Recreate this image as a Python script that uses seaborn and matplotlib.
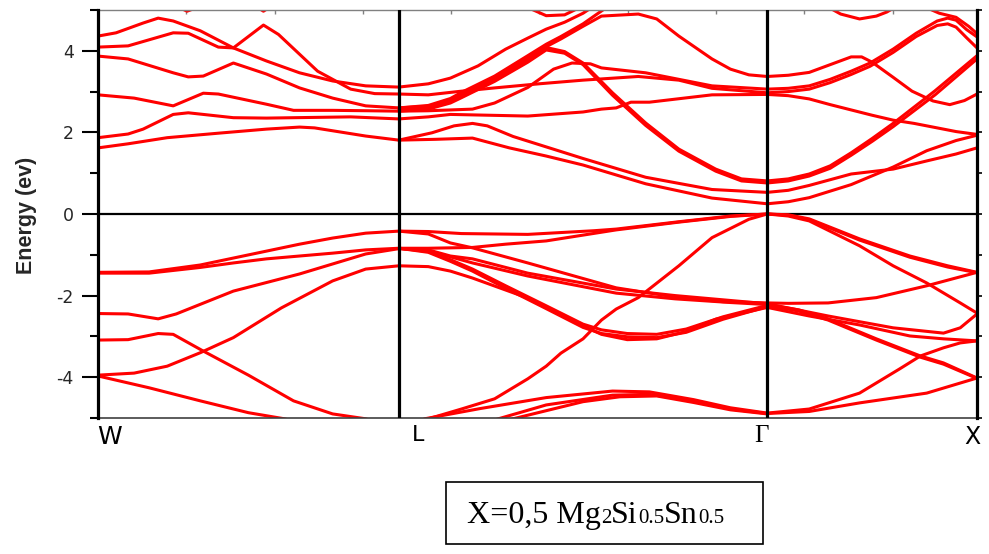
import numpy as np
import pandas as pd
import matplotlib
matplotlib.use("Agg")
import matplotlib.pyplot as plt
import matplotlib.transforms as mtransforms
from matplotlib.patches import Rectangle
import seaborn as sns

# High-symmetry points and their distance along the k-path (2*pi/a)
sym_labels = ["W", "L", "Γ", "X"]
sym_k = [0.0, 0.707, 1.573, 2.066]

# Bands: (segment coordinate, energy in eV); segment coordinate 0 = W, 1 = L, 2 = Γ, 3 = X
vb1 = [(0.00, -1.43), (0.17, -1.42), (0.34, -1.25), (0.45, -1.08), (0.56, -0.91), (0.67, -0.74),
       (0.78, -0.59), (0.89, -0.47), (1.00, -0.42), (1.08, -0.43), (1.17, -0.48), (1.35, -0.50),
       (1.53, -0.41), (1.59, -0.37), (1.76, -0.19), (1.90, -0.05), (2.00, 0.00), (2.10, -0.02),
       (2.20, -0.12), (2.44, -0.61), (2.68, -1.03), (2.86, -1.27), (3.00, -1.43)]
vb2 = [(0.00, -1.45), (0.17, -1.45), (0.34, -1.31), (0.45, -1.20), (0.56, -1.10), (0.67, -1.03),
       (0.78, -0.96), (0.89, -0.88), (1.00, -0.84), (1.08, -0.84), (1.20, -0.82), (1.29, -0.74),
       (1.40, -0.66), (1.59, -0.39), (1.76, -0.20), (1.90, -0.06), (2.00, 0.00), (2.10, -0.03),
       (2.20, -0.14), (2.44, -0.64), (2.68, -1.06), (2.86, -1.30), (3.00, -1.44)]
vb3 = [(0.00, -2.44), (0.10, -2.45), (0.20, -2.57), (0.26, -2.45), (0.45, -1.89), (0.67, -1.47),
       (0.89, -0.98), (1.00, -0.85), (1.08, -0.88), (1.14, -1.03), (1.20, -1.10), (1.35, -1.45),
       (1.59, -1.84), (1.75, -2.00), (1.90, -2.12), (2.00, -2.20), (2.29, -2.50), (2.60, -2.79),
       (2.84, -2.92), (2.92, -2.79), (3.00, -2.45)]
vb4 = [(0.00, -3.09), (0.10, -3.08), (0.20, -2.93), (0.25, -2.95), (0.35, -3.36), (0.50, -3.95),
       (0.65, -4.58), (0.78, -4.90), (0.89, -5.02), (1.00, -5.30), (1.08, -5.02), (1.17, -4.78),
       (1.26, -4.53), (1.35, -4.04), (1.40, -3.73), (1.44, -3.41), (1.50, -3.06), (1.55, -2.60),
       (1.59, -2.33), (1.65, -2.05), (1.76, -1.27), (1.85, -0.58), (1.95, -0.13), (2.00, 0.00),
       (2.10, -0.05), (2.20, -0.17), (2.44, -0.78), (2.60, -1.27), (2.76, -1.69), (2.92, -2.18),
       (3.00, -2.43)]
vb5 = [(0.00, -3.95), (0.12, -3.90), (0.23, -3.73), (0.34, -3.40), (0.45, -3.03), (0.61, -2.30),
       (0.78, -1.64), (0.89, -1.35), (1.00, -1.27), (1.08, -1.29), (1.14, -1.40), (1.20, -1.57),
       (1.35, -2.06), (1.50, -2.74), (1.55, -2.95), (1.62, -3.08), (1.70, -3.06), (1.78, -2.88),
       (1.86, -2.58), (2.00, -2.29), (2.20, -2.50), (2.44, -2.72), (2.68, -2.99), (2.84, -3.06),
       (3.00, -3.11)]
vb6 = [(0.00, -3.97), (0.17, -4.26), (0.34, -4.58), (0.50, -4.87), (0.62, -5.02), (0.80, -5.40)]
vb7 = [(1.00, -0.42), (1.08, -0.49), (1.14, -0.71), (1.20, -0.83), (1.35, -1.20), (1.59, -1.81),
       (1.76, -2.05), (1.88, -2.15), (2.00, -2.18), (2.10, -2.19), (2.29, -2.18), (2.52, -2.05),
       (2.76, -1.76), (3.00, -1.43)]
vb8 = [(1.00, -0.84), (1.08, -0.90), (1.20, -1.20), (1.35, -1.52), (1.59, -1.94), (1.75, -2.08),
       (1.90, -2.17), (2.00, -2.22), (2.15, -2.35), (2.29, -2.57), (2.52, -3.06), (2.73, -3.48),
       (2.84, -3.65), (3.00, -4.02)]
vb9 = [(1.00, -0.84), (1.08, -0.92), (1.14, -1.12), (1.20, -1.35), (1.29, -1.76), (1.40, -2.25),
       (1.50, -2.70), (1.55, -2.84), (1.62, -2.93), (1.70, -2.95), (1.78, -2.82), (1.88, -2.52),
       (2.00, -2.24), (2.15, -2.38), (2.29, -2.60), (2.52, -3.09), (2.73, -3.51), (2.84, -3.68),
       (3.00, -4.03)]
vb10 = [(1.00, -0.84), (1.08, -0.94), (1.14, -1.16), (1.20, -1.40), (1.29, -1.82), (1.40, -2.32),
        (1.50, -2.78), (1.55, -2.93), (1.62, -3.01), (1.70, -3.03), (1.78, -2.90), (1.88, -2.58),
        (2.00, -2.27)]
vb11 = [(1.00, -5.40), (1.07, -5.02), (1.22, -4.77), (1.40, -4.50), (1.58, -4.34), (1.68, -4.36),
        (1.80, -4.55), (1.90, -4.75), (2.00, -4.88), (2.20, -4.78), (2.44, -4.39), (2.63, -3.80),
        (2.73, -3.48), (2.84, -3.28), (2.92, -3.16), (3.00, -3.11)]
vb12 = [(1.00, -5.80), (1.27, -5.02), (1.40, -4.68), (1.58, -4.44), (1.68, -4.42), (1.80, -4.58),
        (1.90, -4.78), (2.00, -4.89), (2.20, -4.84), (2.44, -4.63), (2.76, -4.39), (3.00, -4.02)]
vb13 = [(1.00, -5.90), (1.31, -5.02), (1.50, -4.60), (1.60, -4.48), (1.70, -4.46), (1.80, -4.62),
        (1.90, -4.80), (2.00, -4.90)]

cb1 = [(0.00, 4.36), (0.06, 4.44), (0.15, 4.68), (0.20, 4.80), (0.25, 4.73), (0.34, 4.49),
       (0.45, 4.07), (0.56, 3.75), (0.67, 3.46), (0.78, 3.26), (0.89, 3.14), (1.00, 3.11),
       (1.08, 3.19), (1.14, 3.33), (1.215, 3.63), (1.29, 4.04), (1.35, 4.31), (1.40, 4.53),
       (1.45, 4.70), (1.50, 4.92), (1.53, 5.10)]
cb2 = [(0.00, 4.09), (0.10, 4.12), (0.25, 4.44), (0.30, 4.43), (0.40, 4.09), (0.45, 4.07),
       (0.55, 4.63), (0.60, 4.40), (0.73, 3.50), (0.84, 3.06), (0.92, 2.95), (1.00, 2.94),
       (1.08, 2.92), (1.17, 3.01), (1.26, 3.09), (1.38, 3.19), (1.50, 3.28), (1.55, 3.31),
       (1.65, 3.37), (1.76, 3.28), (1.85, 3.08), (2.00, 2.97), (2.10, 3.00), (2.20, 3.06),
       (2.30, 3.22), (2.40, 3.42), (2.49, 3.62), (2.60, 3.96), (2.71, 4.35), (2.81, 4.62),
       (2.86, 4.66), (2.90, 4.58), (2.95, 4.32), (3.00, 4.07)]
cb3 = [(0.00, 3.87), (0.10, 3.80), (0.25, 3.46), (0.30, 3.36), (0.35, 3.38), (0.45, 3.70),
       (0.56, 3.43), (0.67, 3.09), (0.78, 2.84), (0.89, 2.65), (1.00, 2.60), (1.08, 2.64),
       (1.14, 2.80), (1.17, 2.94), (1.26, 3.33), (1.35, 3.82), (1.40, 4.10), (1.44, 4.29),
       (1.50, 4.60), (1.55, 4.85), (1.65, 4.90), (1.70, 4.78), (1.76, 4.36), (1.85, 3.80),
       (1.90, 3.55), (1.95, 3.41), (2.00, 3.37), (2.10, 3.40), (2.20, 3.47), (2.30, 3.66),
       (2.40, 3.85), (2.45, 3.85), (2.50, 3.72), (2.60, 3.35), (2.69, 3.01), (2.79, 2.77),
       (2.87, 2.68), (2.94, 2.78), (3.00, 2.94)]
cb4 = [(0.00, 2.92), (0.12, 2.84), (0.25, 2.65), (0.35, 2.96), (0.40, 2.94), (0.56, 2.69),
       (0.65, 2.54), (0.78, 2.54), (0.90, 2.53), (1.00, 2.52), (1.08, 2.53), (1.20, 2.57),
       (1.26, 2.72), (1.35, 3.10), (1.42, 3.55), (1.47, 3.70), (1.52, 3.68), (1.55, 3.58),
       (1.67, 3.46), (1.85, 3.14), (2.00, 3.06), (2.10, 3.08), (2.20, 3.14), (2.30, 3.30),
       (2.40, 3.50), (2.49, 3.70), (2.60, 4.04), (2.71, 4.43), (2.81, 4.73), (2.86, 4.80),
       (2.90, 4.75), (2.95, 4.52), (3.00, 4.34)]
cb5 = [(0.00, 1.87), (0.10, 1.96), (0.15, 2.08), (0.25, 2.44), (0.30, 2.48), (0.45, 2.36),
       (0.56, 2.35), (0.84, 2.38), (1.00, 2.33), (1.08, 2.38), (1.14, 2.44), (1.35, 2.40),
       (1.50, 2.50), (1.55, 2.57), (1.59, 2.60), (1.63, 2.74), (1.68, 2.74), (1.85, 2.92),
       (2.00, 2.93), (2.10, 2.90), (2.20, 2.82), (2.30, 2.68), (2.40, 2.55), (2.50, 2.42),
       (2.60, 2.30), (2.70, 2.22), (2.80, 2.12), (2.90, 2.02), (3.00, 1.95)]
cb6 = [(0.00, 1.62), (0.10, 1.72), (0.23, 1.87), (0.40, 1.98), (0.56, 2.08), (0.67, 2.13),
       (0.72, 2.11), (0.89, 1.91), (1.00, 1.81), (1.09, 1.99), (1.15, 2.16), (1.20, 2.22),
       (1.24, 2.16), (1.31, 1.90), (1.50, 1.36), (1.67, 0.90), (1.85, 0.60), (2.00, 0.53),
       (2.10, 0.58), (2.20, 0.70), (2.40, 0.98), (2.60, 1.10), (2.76, 1.30), (2.90, 1.47),
       (3.00, 1.62)]
cb7 = [(1.00, 1.81), (1.10, 1.83), (1.20, 1.86), (1.30, 1.62), (1.40, 1.42), (1.50, 1.20),
       (1.67, 0.74), (1.85, 0.39), (2.00, 0.25), (2.10, 0.30), (2.20, 0.40), (2.40, 0.72),
       (2.60, 1.15), (2.76, 1.55), (2.90, 1.80), (3.00, 1.93)]
cb8 = [(1.00, 2.60), (1.08, 2.66), (1.14, 2.83), (1.17, 2.98), (1.26, 3.38), (1.35, 3.88),
       (1.40, 4.16), (1.44, 4.35), (1.50, 4.66), (1.53, 4.85), (1.57, 5.10)]
cb9 = [(1.00, 2.55), (1.08, 2.60), (1.14, 2.76), (1.17, 2.90), (1.26, 3.30), (1.35, 3.78),
       (1.40, 4.08), (1.45, 3.98), (1.50, 3.70), (1.58, 2.97), (1.67, 2.23), (1.76, 1.59),
       (1.86, 1.10), (1.93, 0.86), (2.00, 0.81), (2.10, 0.86), (2.20, 0.98), (2.30, 1.18),
       (2.40, 1.50), (2.50, 1.85), (2.60, 2.22), (2.70, 2.62), (2.80, 3.02), (2.90, 3.45),
       (3.00, 3.88)]
cb10 = [(1.00, 2.52), (1.08, 2.57), (1.14, 2.72), (1.17, 2.85), (1.26, 3.25), (1.35, 3.72),
        (1.40, 4.02), (1.45, 3.94), (1.50, 3.66), (1.58, 2.91), (1.67, 2.17), (1.76, 1.54),
        (1.86, 1.05), (1.93, 0.81), (2.00, 0.76), (2.10, 0.81), (2.20, 0.93), (2.30, 1.12),
        (2.40, 1.44), (2.50, 1.78), (2.60, 2.14), (2.70, 2.53), (2.80, 2.92), (2.90, 3.36),
        (3.00, 3.80)]
cb11 = [(1.34, 5.10), (1.40, 4.86), (1.45, 4.88), (1.50, 5.10)]
cb12 = [(2.28, 5.10), (2.35, 4.90), (2.44, 4.78), (2.52, 4.85), (2.57, 4.95), (2.62, 5.10)]
cb13 = [(2.74, 5.10), (2.82, 4.92), (2.90, 4.82), (2.96, 4.60), (3.00, 4.42)]
cb14 = [(0.20, 5.30), (0.296, 4.97), (0.40, 5.25), (0.50, 5.20), (0.55, 4.97), (0.62, 5.30)]

bands = {
    "vb1": vb1, "vb2": vb2, "vb3": vb3, "vb4": vb4, "vb5": vb5, "vb6": vb6, "vb7": vb7,
    "vb8": vb8, "vb9": vb9, "vb10": vb10, "vb11": vb11, "vb12": vb12, "vb13": vb13,
    "cb1": cb1, "cb2": cb2, "cb3": cb3, "cb4": cb4, "cb5": cb5, "cb6": cb6, "cb7": cb7,
    "cb8": cb8, "cb9": cb9, "cb10": cb10, "cb11": cb11, "cb12": cb12, "cb13": cb13, "cb14": cb14,
}

y_major = [-4, -2, 0, 2, 4]
y_minor = [-5, -3, -1, 1, 3, 5]
y_label = "Energy (ev)"
legend_parts = [("X=0,5 Mg", 23), ("2", 15), ("Si", 23), ("0.5", 15), ("Sn", 23), ("0.5", 15)]

# long-form table: one row per sampled point
rows = []
for name, pts in bands.items():
    for s, e in pts:
        rows.append((name, s, e))
df = pd.DataFrame(rows, columns=["band", "s", "E"])
df["k"] = np.interp(df["s"], [0, 1, 2, 3], sym_k)

sns.set_style("white")
plt.rcParams["font.family"] = ["DejaVu Sans"]
plt.rcParams["axes.unicode_minus"] = False

fig = plt.figure(figsize=(9.89, 5.54), dpi=100)
ax = fig.add_axes([0.0991, 0.2455, 0.8888, 0.7365])

sns.lineplot(data=df, x="k", y="E", units="band", estimator=None, sort=False,
             color="#ff0000", linewidth=2.2, legend=False, ax=ax, zorder=2)

ax.set_xlim(sym_k[0], sym_k[-1])
ax.set_ylim(-5, 5)
ax.set_xlabel("")
ax.set_ylabel("")

# Fermi level and high-symmetry separators
ax.axhline(0, color="black", lw=1.6, zorder=1.5)
for k in sym_k[1:-1]:
    ax.axvline(k, color="black", lw=2.3, zorder=3)

for side in ["left", "right"]:
    ax.spines[side].set_color("black")
    ax.spines[side].set_linewidth(2.3)
    ax.spines[side].set_zorder(3)
ax.spines["top"].set_color("#808080")
ax.spines["top"].set_linewidth(1.0)
ax.spines["bottom"].set_color("#404040")
ax.spines["bottom"].set_linewidth(1.2)

ax.set_yticks(y_major)
ax.set_yticks(y_minor, minor=True)
ax.set_yticklabels([str(v) for v in y_major])
ax.tick_params(axis="y", which="major", direction="out", length=11.5, width=1.5,
               color="black", labelsize=12.5, pad=6, left=True, right=False)
ax.tick_params(axis="y", which="minor", direction="out", length=5.8, width=1.5,
               color="black", left=True, right=False)

# small reference ticks along the k-axis
ax.set_xticks(np.arange(0.4627, 2.0, 0.4627))
ax.tick_params(axis="x", which="major", direction="in", length=3, width=1,
               color="#606060", labelbottom=False)
top = ax.secondary_xaxis("top")
top.set_xticks(np.arange(0.0, 2.07, 0.2075))
top.tick_params(direction="in", length=3, width=1, color="#808080", labeltop=False)
top.spines["top"].set_visible(False)
right = ax.secondary_yaxis("right")
right.set_yticks(np.arange(-5, 6, 1))
right.tick_params(direction="out", length=3.5, width=1.2, color="black", labelright=False)
right.spines["right"].set_visible(False)

# high-symmetry labels under the axis
label_dx_px = [12, 19, -6, -5]
label_font = [["DejaVu Sans"], ["DejaVu Sans"], ["Liberation Serif", "DejaVu Serif"], ["DejaVu Sans"]]
label_size = [18, 16, 18, 17]
blend = mtransforms.blended_transform_factory(ax.transData, ax.transAxes)
for lab, k, dx, fam, fs in zip(sym_labels, sym_k, label_dx_px, label_font, label_size):
    off = mtransforms.ScaledTranslation(dx / 100, 0, fig.dpi_scale_trans)
    ax.text(k, -0.018, lab, transform=blend + off, ha="center", va="top",
            fontsize=fs, family=fam, color="black")

fig.text(0.0273, 0.612, y_label, rotation=90, ha="center", va="center",
         fontsize=15.5, fontweight="bold", family=["Liberation Sans", "DejaVu Sans"])

# composition box below the plot
fig.patches.append(Rectangle((446 / 989, 1 - 544 / 554), (763 - 446) / 989, (544 - 482) / 554,
                             transform=fig.transFigure, fill=False, edgecolor="black",
                             linewidth=1.2))
renderer = fig.canvas.get_renderer()
x = 467 / 989
y0 = 1 - 523 / 554
for txt, fs in legend_parts:
    t = fig.text(x, y0, txt, fontsize=fs, family=["Liberation Serif", "DejaVu Serif"],
                 ha="left", va="baseline", color="black")
    bb = t.get_window_extent(renderer=renderer)
    x = fig.transFigure.inverted().transform((bb.x1, bb.y0))[0]

fig.savefig("out.png", dpi=100)
